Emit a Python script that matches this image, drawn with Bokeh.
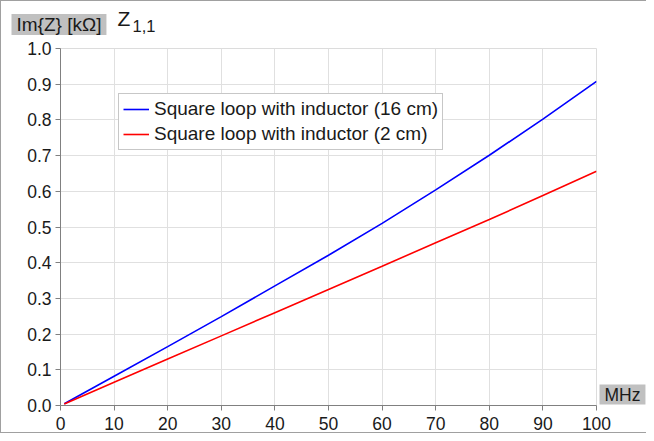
from bokeh.plotting import figure
from bokeh.models import Label, Legend, LegendItem, FixedTicker, NumeralTickFormatter, Range1d
from bokeh.embed import file_html
from bokeh.resources import INLINE

freq_mhz = [0.7, 10, 20, 30, 40, 50, 60, 70, 80, 90, 100]
im_z_16cm = [0.005, 0.082, 0.165, 0.249, 0.335, 0.421, 0.510, 0.604, 0.701, 0.802, 0.908]
im_z_2cm = [0.004, 0.065, 0.130, 0.195, 0.260, 0.325, 0.390, 0.456, 0.521, 0.588, 0.656]
x_ticks = [0, 10, 20, 30, 40, 50, 60, 70, 80, 90, 100]
y_ticks = [0.0, 0.1, 0.2, 0.3, 0.4, 0.5, 0.6, 0.7, 0.8, 0.9, 1.0]
series_names = ["Square loop with inductor (16 cm)", "Square loop with inductor (2 cm)"]

FONT = "Liberation Sans"
TXT = "#1a1a1a"

p = figure(width=646, height=433, output_backend="svg", toolbar_location=None,
           x_range=Range1d(0, 100), y_range=Range1d(0, 1.0))
p.min_border_left = 56
p.min_border_right = 51
p.min_border_top = 47
p.min_border_bottom = 29
p.styles = {"border-left": "1px solid #a0a0a0", "border-top": "1px solid #a0a0a0",
            "border-bottom": "1px solid #a0a0a0"}

p.outline_line_color = "#dcdcdc"
p.xgrid.grid_line_color = "#e0e0e0"
p.ygrid.grid_line_color = "#e0e0e0"

for ax in (p.xaxis[0], p.yaxis[0]):
    ax.axis_line_color = "#808080"
    ax.major_tick_line_color = "#808080"
    ax.major_tick_out = 5
    ax.major_tick_in = 0
    ax.minor_tick_line_color = None
    ax.major_label_text_font = FONT
    ax.major_label_text_font_size = "17.5px"
    ax.major_label_text_color = TXT

p.xaxis[0].ticker = FixedTicker(ticks=x_ticks)
p.yaxis[0].ticker = FixedTicker(ticks=y_ticks)
p.yaxis[0].formatter = NumeralTickFormatter(format="0.0")
p.xaxis[0].major_label_standoff = 6
p.yaxis[0].major_label_standoff = 4

r1 = p.line(freq_mhz, im_z_16cm, line_color="#0000ff", line_width=1.6)
r2 = p.line(freq_mhz, im_z_2cm, line_color="#ff0000", line_width=1.6)

legend = Legend(items=[LegendItem(label=series_names[0], renderers=[r1]),
                       LegendItem(label=series_names[1], renderers=[r2])],
                location=(58, 255))
legend.label_text_font = FONT
legend.label_text_font_size = "19px"
legend.label_text_color = TXT
legend.border_line_color = "#909090"
legend.background_fill_alpha = 1.0
legend.glyph_width = 26
legend.glyph_height = 22
legend.label_height = 22
legend.spacing = 3
legend.padding = 4
legend.margin = 0
legend.label_standoff = 5
p.add_layout(legend, "center")

# Text annotations live in side panels so that they are not clipped to the frame
ylab = Label(x=0, y=1.0, x_offset=-49, y_offset=24, text="Im{Z} [k\u03a9]",
             text_baseline="middle",
             text_font=FONT, text_font_size="19px", text_color=TXT,
             background_fill_color="#c0c0c0", padding=(5, 5, 0, 0))
p.add_layout(ylab, "above")
ztitle = Label(x=0, y=1.0, x_offset=57, y_offset=30, text="Z",
               text_baseline="middle",
               text_font=FONT, text_font_size="21px", text_color=TXT)
p.add_layout(ztitle, "above")
zsub = Label(x=0, y=1.0, x_offset=72, y_offset=23, text="1,1",
             text_baseline="middle",
             text_font=FONT, text_font_size="16.5px", text_color=TXT)
p.add_layout(zsub, "left")
xlab = Label(x=100, y=0, x_offset=3, y_offset=11, text="MHz",
             text_baseline="middle",
             text_font=FONT, text_font_size="17.5px", text_color=TXT,
             background_fill_color="#c0c0c0", padding=(5, 5, 0, 0))
p.add_layout(xlab, "right")

open("out.html", "w").write(file_html(p, INLINE))
